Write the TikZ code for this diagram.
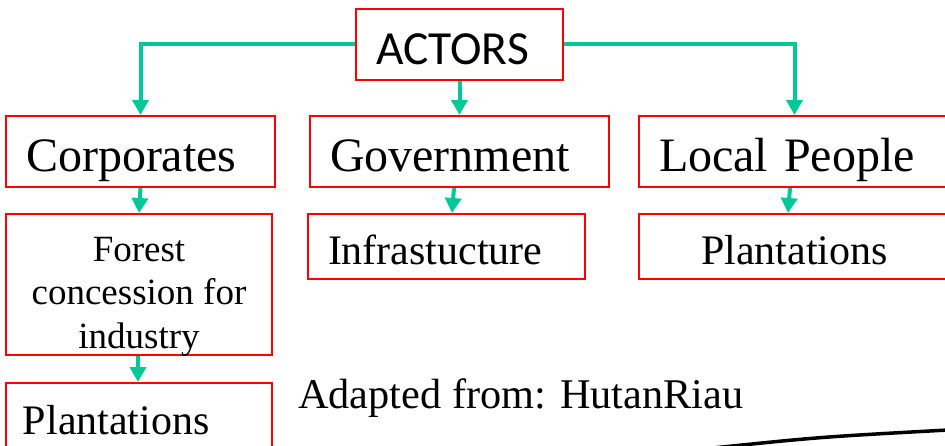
\documentclass[tikz,border=0pt]{standalone}
\usepackage{fontspec}
\setmainfont{Liberation Serif}
\newfontfamily\actorsfont{Carlito}
\usetikzlibrary{arrows.meta}
\definecolor{arrowgreen}{RGB}{0,200,150}
\tikzset{
  box/.style={draw=red, line width=2pt, rectangle, inner xsep=20pt, align=left},
  bigtext/.style={font=\fontsize{48pt}{52pt}\selectfont, text height=40pt, text depth=0pt},
  midtext/.style={font=\fontsize{42pt}{46pt}\selectfont, text height=37pt, text depth=0pt},
  conn/.style={draw=arrowgreen, line width=4pt, -{Triangle[width=16pt,length=15pt]}}
}
\begin{document}
\begin{tikzpicture}[x=1pt, y=-1pt]
\clip (0,0) rectangle (945,446);
% top node
\node[box, minimum width=207pt, minimum height=71pt, text width=167pt,
  font=\actorsfont\fontsize{47.5pt}{50pt}\selectfont, text height=41pt, text depth=0pt]
  (actors) at (459.5,44.5) {ACTORS};
% first row
\node[box, bigtext, minimum width=269pt, minimum height=71pt, text width=229pt] (corp) at (140.5,151.5) {Corporates};
\node[box, bigtext, minimum width=299pt, minimum height=71pt, text width=259pt] (gov) at (459.5,151.5) {Government};
\node[box, bigtext, minimum width=311pt, minimum height=71pt, text width=271pt] (local) at (794.5,151.5) {Local People};
% second row
\node[box, minimum width=266pt, minimum height=141pt,
  label={[font=\fontsize{37pt}{43.5pt}\selectfont, align=center, yshift=-12pt]center:Forest\\concession for\\industry}]
  (forest) at (139,284.5) {};
\node[box, midtext, minimum width=277pt, minimum height=65pt, text width=237pt] (infra) at (446.5,246.5) {Infrastucture};
\node[box, midtext, minimum width=311pt, minimum height=65pt, align=center] (plantB) at (794.5,246.5) {Plantations};
% third row
\node[box, midtext, minimum width=266pt, minimum height=65pt, inner xsep=17pt, text width=232pt] (plantA) at (139,415.5) {Plantations};
\node[anchor=base west, font=\fontsize{42.3pt}{45pt}\selectfont, inner sep=0pt] (source) at (298,408) {Adapted from: HutanRiau};
% connectors
\draw[conn] (actors.west) -| (corp.north);
\draw[conn] (actors.south) -- (gov.north);
\draw[conn] (actors.east) -| (local.north);
\draw[conn] (corp.south) -- (forest.north);
\draw[conn] ([xshift=-5.5pt]gov.south) -- ([xshift=5.5pt]infra.north);
\draw[conn] ([xshift=-4.5pt]local.south) -- ([xshift=-6.5pt]plantB.north);
\draw[conn] ([xshift=-1pt]forest.south) -- ([xshift=-1pt]plantA.north);
% pen stroke at bottom right
\draw[line width=3.5pt, line cap=round] (713,448) .. controls (820,437) .. (948,430);
\end{tikzpicture}
\end{document}
